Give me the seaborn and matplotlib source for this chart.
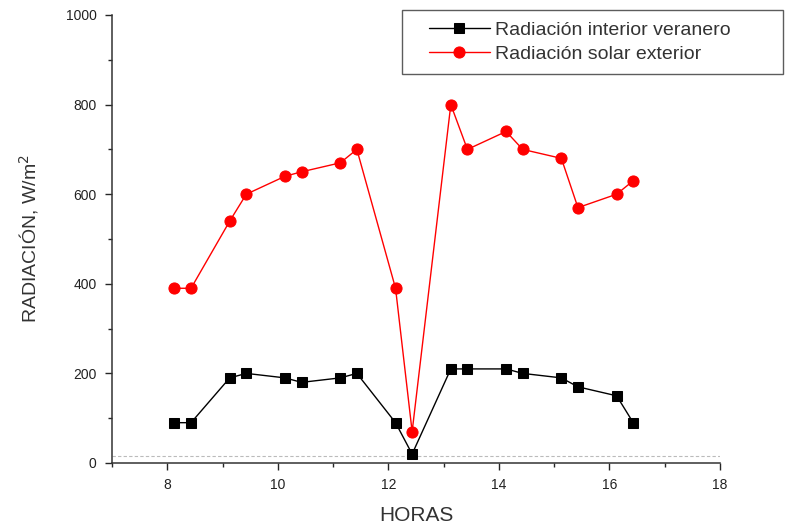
import pandas as pd
import matplotlib
matplotlib.use('Agg')
import matplotlib.pyplot as plt
import seaborn as sns
from matplotlib.ticker import MultipleLocator
from matplotlib.lines import Line2D
from matplotlib.legend_handler import HandlerLine2D

# data
horas = [8.13, 8.43, 9.13, 9.43, 10.13, 10.43, 11.13, 11.43, 12.13,
         12.43, 13.13, 13.43, 14.13, 14.43, 15.13, 15.43, 16.13, 16.43]
interior = [90, 90, 190, 200, 190, 180, 190, 200, 90,
            20, 210, 210, 210, 200, 190, 170, 150, 90]
exterior = [390, 390, 540, 600, 640, 650, 670, 700, 390,
            70, 800, 700, 740, 700, 680, 570, 600, 630]

df = pd.DataFrame({'HORAS': horas, 'interior': interior, 'exterior': exterior})

sns.set_style('ticks')
plt.rcParams['font.family'] = ['Liberation Sans', 'DejaVu Sans']

fig = plt.figure(figsize=(7.85, 5.3), dpi=100)
ax = fig.add_axes([112/785, 1-463/530, (720-112)/785, (463-15)/530])

sns.lineplot(data=df, x='HORAS', y='interior', ax=ax, color='black', marker='s',
             markersize=6.5, markeredgecolor='black', linewidth=1, sort=False,
             label='Radiación interior veranero')
sns.lineplot(data=df, x='HORAS', y='exterior', ax=ax, color='red', marker='o',
             markersize=8, markeredgecolor='red', linewidth=1, sort=False,
             label='Radiación solar exterior')

# faint dashed line near the bottom (as in the original)
ax.axhline(15, color='#bbbbbb', linestyle=(0, (3, 2)), linewidth=0.8, zorder=0)

ax.set_xlim(7, 18)
ax.set_ylim(0, 1000)
ax.xaxis.set_major_locator(MultipleLocator(2))
ax.xaxis.set_minor_locator(MultipleLocator(1))
ax.yaxis.set_major_locator(MultipleLocator(200))
ax.yaxis.set_minor_locator(MultipleLocator(100))
ax.set_xticks([8, 10, 12, 14, 16, 18])
ax.tick_params(which='major', length=5, width=1, direction='out', labelsize=10,
               labelcolor='#222222', pad=6)
ax.tick_params(which='minor', length=3, width=1, direction='out')
sns.despine(ax=ax)
for s in ['left', 'bottom']:
    ax.spines[s].set_linewidth(1.1)
    ax.spines[s].set_color('#333333')

ax.set_xlabel('HORAS', fontsize=15, color='#333333', labelpad=10)
ax.set_ylabel('RADIACIÓN, W/m$^2$', fontsize=14, color='#333333', labelpad=18)

leg = ax.legend(loc='upper left', bbox_to_anchor=(402/785, 1-71/530, (783-402)/785, 61/530),
                bbox_transform=fig.transFigure, mode='expand', borderaxespad=0,
                fontsize=14, frameon=True, fancybox=False, handlelength=3.9,
                handletextpad=0.3, borderpad=0.6, labelspacing=0.3,
                handler_map={Line2D: HandlerLine2D(xpad=0.8)})
leg.get_frame().set_edgecolor('#333333')
leg.get_frame().set_linewidth(1)
for t in leg.get_texts():
    t.set_color('#333333')

fig.savefig('out.png', dpi=100)
